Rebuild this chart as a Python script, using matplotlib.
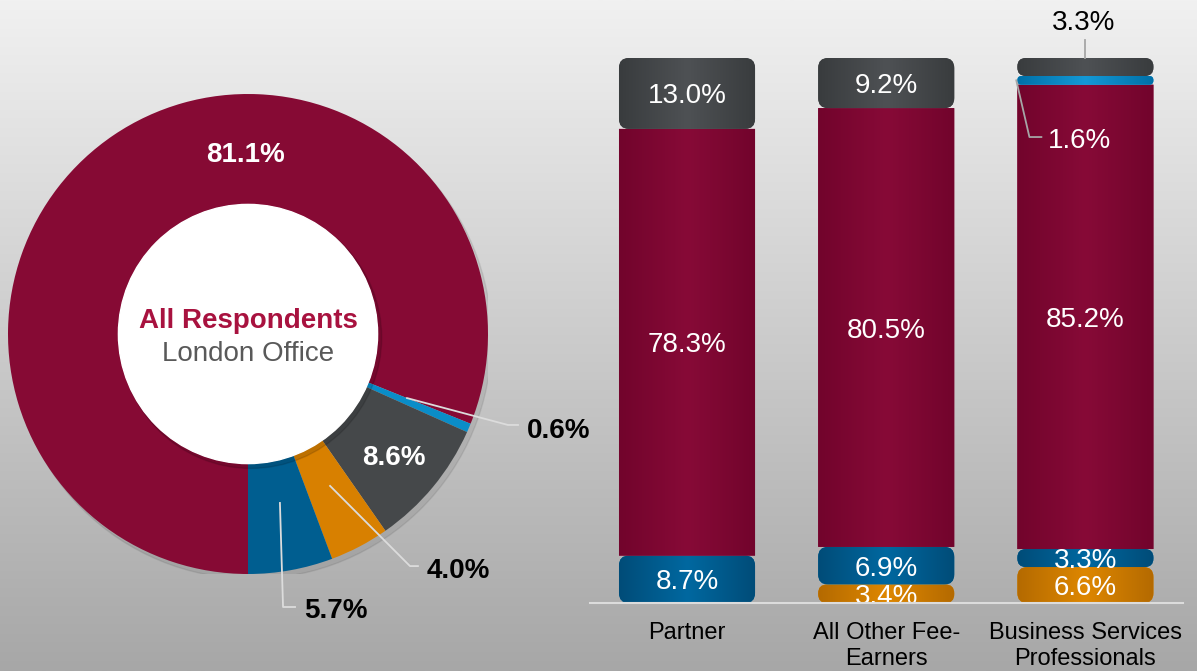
import numpy as np
import matplotlib
matplotlib.use('Agg')
import matplotlib.pyplot as plt
from matplotlib.patches import FancyBboxPatch, Circle
from matplotlib.colors import LinearSegmentedColormap

plt.rcParams['font.family'] = ['Liberation Sans', 'DejaVu Sans']

# ---- data ----
pie_labels = ['Red', 'Light blue', 'Grey', 'Orange', 'Blue']
pie_values = [81.1, 0.6, 8.6, 4.0, 5.7]

bar_groups = ['Partner', 'All Other Fee-\nEarners', 'Business Services\nProfessionals']
orange_vals = [0.0, 3.4, 6.6]
blue_vals = [8.7, 6.9, 3.3]
red_vals = [78.3, 80.5, 85.2]
lightblue_vals = [0.0, 0.0, 1.6]
grey_vals = [13.0, 9.2, 3.3]

# colours (edge, centre) for the bar gradients
RED = '#860a34'
GREY = '#45484a'
BLUE = '#005e90'
LBLUE = '#0a8dc8'
ORANGE = '#d88000'
shade = {
    'orange': ('#b46a00', '#de8700'),
    'blue': ('#004c78', '#0068a0'),
    'red': ('#72042c', '#870a37'),
    'lightblue': ('#0070a8', '#1499d6'),
    'grey': ('#393c3e', '#4e5154'),
}

W, H = 1197, 671
fig = plt.figure(figsize=(W / 100, H / 100), dpi=100)

# background gradient
bg = fig.add_axes([0, 0, 1, 1], zorder=0)
grad = np.linspace(0, 1, 256).reshape(-1, 1)
bg_cmap = LinearSegmentedColormap.from_list('bg', ['#f1f1f1', '#a7a7a7'])
bg.imshow(grad, aspect='auto', cmap=bg_cmap, extent=[0, 1, 0, 1])
bg.axis('off')

# ---- donut ----
cx, cy, R = 248, 334, 240
axp = fig.add_axes([(cx - R) / W, (H - cy - R) / H, 2 * R / W, 2 * R / H], zorder=1)
axp.set_xlim(-1, 1)
axp.set_ylim(-1, 1)
axp.axis('off')

# faint shadow
axp.add_patch(Circle((0.015, -0.02), 1.0, color='black', alpha=0.08, zorder=0))
wedges, _ = axp.pie(pie_values, colors=[RED, LBLUE, GREY, ORANGE, BLUE],
                    startangle=-90, counterclock=False, radius=1,
                    wedgeprops=dict(width=0.46, edgecolor='none'))
axp.add_patch(Circle((0.012, -0.015), 0.545, color='black', alpha=0.12, zorder=3))
axp.add_patch(Circle((0, 0), 0.54, color='white', zorder=4))
axp.set_xlim(-1, 1)
axp.set_ylim(-1, 1)

axp.text(0, 0.067, 'All Respondents', ha='center', va='center_baseline', fontsize=20,
         fontweight='bold', color='#a8123f', zorder=5)
axp.text(0, -0.071, 'London Office', ha='center', va='center_baseline', fontsize=20,
         color='#595959', zorder=5)

axp.text(-0.01, 0.76, f'{pie_values[0]:.1f}%', ha='center', va='center_baseline',
         fontsize=20, fontweight='bold', color='white', zorder=5)
w = wedges[2]
mid = np.deg2rad((w.theta1 + w.theta2) / 2)
axp.text(0.79 * np.cos(mid), 0.79 * np.sin(mid), f'{pie_values[2]:.1f}%',
         ha='center', va='center_baseline', fontsize=20, fontweight='bold',
         color='white', zorder=5)

leader = '#dcdcdc'
outside = [
    (pie_values[1], [(0.6625, -0.267), (1.083, -0.379), (1.125, -0.379)], (1.16, -0.39)),
    (pie_values[3], [(0.342, -0.633), (0.675, -0.967), (0.708, -0.967)], (0.745, -0.975)),
    (pie_values[4], [(0.133, -0.704), (0.146, -1.1375), (0.196, -1.1375)], (0.235, -1.14)),
]
for val, pts, tpos in outside:
    xs, ys = zip(*pts)
    axp.plot(xs, ys, color=leader, lw=1.3, zorder=5, clip_on=False)
    axp.text(tpos[0], tpos[1], f'{val:.1f}%', ha='left', va='center_baseline', fontsize=20,
             fontweight='bold', color='black', zorder=5, clip_on=False)

# ---- stacked bars ----
base_px, top_px = 603, 58
left_px, right_px = 590, 1183
ax = fig.add_axes([left_px / W, (H - base_px) / H, (right_px - left_px) / W,
                   (base_px - top_px) / H], zorder=1)
ax.set_facecolor('none')
x = np.arange(len(bar_groups))
bw = 0.683
xlim = (-0.487, 2.49)
ylim = (0, 100)

series = [('orange', orange_vals), ('blue', blue_vals), ('red', red_vals),
          ('lightblue', lightblue_vals), ('grey', grey_vals)]
bottom = np.zeros(len(x))
px_per_x = (right_px - left_px) / (xlim[1] - xlim[0])
px_per_y = (base_px - top_px) / (ylim[1] - ylim[0])
aspect = px_per_x / px_per_y
segments = []
for name, vals in series:
    bars = ax.bar(x, vals, bw, bottom=bottom, color='none', edgecolor='none')
    for rect, v in zip(bars, vals):
        if v <= 0:
            continue
        segments.append((name, rect, v))
    bottom = bottom + np.array(vals)

for name, rect, v in segments:
    rx, ry, rw, rh = rect.get_x(), rect.get_y(), rect.get_width(), rect.get_height()
    if name == 'red':
        rnd = 0.0
    else:
        rnd = min(0.05, rh / aspect / 2 * 0.95)
    patch = FancyBboxPatch((rx, ry), rw, rh,
                           boxstyle=f'round,pad=0,rounding_size={rnd}',
                           mutation_aspect=aspect, facecolor=shade[name][1],
                           edgecolor='none', zorder=2)
    ax.add_patch(patch)
    edge, centre = shade[name]
    cm = LinearSegmentedColormap.from_list(name, [edge, centre, edge])
    g = np.linspace(0, 1, 200).reshape(1, -1)
    im = ax.imshow(g, extent=[rx, rx + rw, ry, ry + rh], cmap=cm, aspect='auto',
                   zorder=2, interpolation='bilinear')
    im.set_clip_path(patch)
    if name == 'lightblue' or (name == 'grey' and v < 5):
        continue
    ax.text(rx + rw / 2, ry + rh / 2, f'{v:.1f}%', ha='center', va='center_baseline',
            fontsize=20, color='white', zorder=4)

# small segments of the last bar labelled outside
bsp = 2
grey_bot = orange_vals[bsp] + blue_vals[bsp] + red_vals[bsp] + lightblue_vals[bsp]
ax.plot([2.0, 2.0], [grey_bot + grey_vals[bsp], 103.3], color='#a6a6a6', lw=1.3,
        zorder=3, clip_on=False)
ax.text(1.99, 107, f'{grey_vals[bsp]:.1f}%', ha='center', va='center_baseline',
        fontsize=20, color='black', clip_on=False)
lb_mid = grey_bot - lightblue_vals[bsp] / 2
ax.plot([1.653, 1.719, 1.779], [lb_mid, 85.5, 85.5], color='#a6a6a6', lw=1.3,
        zorder=3, clip_on=False)
ax.text(1.81, 85.3, f'{lightblue_vals[bsp]:.1f}%', ha='left', va='center_baseline',
        fontsize=20, color='white', zorder=4)

ax.set_xlim(*xlim)
ax.set_ylim(*ylim)
for s in ['top', 'right', 'left']:
    ax.spines[s].set_visible(False)
ax.spines['bottom'].set_color('#dcdcdc')
ax.spines['bottom'].set_linewidth(1.5)
ax.spines['bottom'].set_zorder(5)
ax.set_yticks([])
ax.set_xticks(x)
ax.set_xticklabels(bar_groups, fontsize=17, color='black', linespacing=1.18)
ax.tick_params(axis='x', length=0, pad=14)

fig.savefig('out.png', dpi=100)
